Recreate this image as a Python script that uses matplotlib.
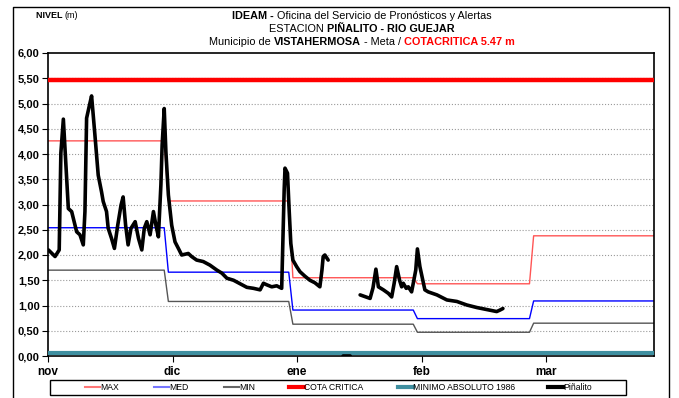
import numpy as np
import matplotlib
matplotlib.use("Agg")
import matplotlib.pyplot as plt
from matplotlib import font_manager
from matplotlib.lines import Line2D
from matplotlib.patches import Rectangle

# fuente angosta si existe
nombres = {f.name for f in font_manager.fontManager.ttflist}
FUENTE = 'Liberation Sans Narrow' if 'Liberation Sans Narrow' in nombres else 'Liberation Sans'
plt.rcParams['font.family'] = [FUENTE, 'DejaVu Sans']

# meses del eje x y niveles historicos mensuales (m)
meses = ['nov', 'dic', 'ene', 'feb', 'mar']
nivel_max = [4.26, 3.07, 1.55, 1.43, 2.38]
nivel_med = [2.54, 1.66, 0.91, 0.74, 1.09]
nivel_min = [1.70, 1.08, 0.63, 0.47, 0.65]
cota_critica = 5.47
minimo_1986 = 0.05

# nivel diario Piñalito (dia desde 1 nov, nivel m); NaN = sin dato
pin_dia = [0.1, 1.7, 2.7, 3.1, 3.7, 4.9, 5.7, 6.9, 7.7, 8.5, 8.9, 9.3, 10.0, 10.5,
           11.3, 12.1, 12.9, 13.3, 14.1, 14.5, 15.3, 16.0, 16.8, 17.6, 18.1, 18.7,
           19.3, 20.0, 21.0, 21.8, 22.6, 23.2, 23.8, 24.6, 25.4, 26.0, 26.6, 27.2,
           27.5, 28.0, 28.4, 29.0, 29.8, 30.6, 31.6, 32.2, 33.8, 34.6, 35.8, 37.4,
           39.0, 40.7, 41.9, 43.1, 44.7, 46.3, 47.9, 49.5, 51.1, 51.9, 52.7, 53.9,
           55.1, 56.3, 56.9, 57.1, 57.7, 58.1, 58.5, 59.0, 59.9, 60.7, 61.9, 63.1,
           64.3, 65.5, 66.0, 66.3, 66.7, 67.5,
           69.0,
           71.1, 72.8,
           74.0,
           75.2, 77.6, 78.3, 79.0, 79.6, 80.8, 82.0, 82.8, 83.4, 84.0, 84.7, 85.2,
           85.6, 86.3, 86.8, 87.6, 88.0, 88.6, 89.0, 89.6, 90.3, 90.8, 91.6, 93.7,
           96.1, 98.5, 100.9, 103.3, 105.7, 108.1, 108.9, 109.6]
pin_nivel = [2.10, 1.97, 2.10, 4.02, 4.69, 2.92, 2.86, 2.46, 2.40, 2.20, 2.86, 4.71,
             4.97, 5.15, 4.38, 3.58, 3.25, 3.06, 2.86, 2.53, 2.33, 2.13, 2.59, 2.99,
             3.15, 2.59, 2.20, 2.53, 2.66, 2.33, 2.10, 2.53, 2.66, 2.40, 2.86, 2.59,
             2.36, 3.39, 4.18, 4.90, 4.05, 3.19, 2.59, 2.26, 2.10, 2.00, 2.03, 1.97,
             1.90, 1.87, 1.80, 1.70, 1.64, 1.54, 1.50, 1.43, 1.36, 1.34, 1.31, 1.44,
             1.41, 1.37, 1.39, 1.34, 3.29, 3.72, 3.62, 2.89, 2.23, 1.90, 1.77, 1.67,
             1.58, 1.50, 1.45, 1.37, 1.70, 1.97, 2.00, 1.90,
             np.nan,
             0.0, 0.0,
             np.nan,
             1.21, 1.14, 1.35, 1.72, 1.37, 1.31, 1.24, 1.17, 1.44, 1.77, 1.50, 1.37,
             1.44, 1.34, 1.37, 1.27, 1.44, 1.70, 2.12, 1.77, 1.50, 1.31, 1.27, 1.21,
             1.11, 1.08, 1.01, 0.96, 0.92, 0.88, 0.91, 0.94]

inicio_mes = [0, 30, 60, 90, 120]   # posicion de cada mes en el eje
cambio = [29, 59, 89, 117]          # dia en que entra el valor del mes siguiente
x_fin = 146


def escalon(valores):
    xs, ys = [0], [valores[0]]
    for c, v_ant, v in zip(cambio, valores[:-1], valores[1:]):
        xs += [c - 1, c]
        ys += [v_ant, v]
    xs.append(x_fin)
    ys.append(valores[-1])
    return xs, ys


W, H = 679, 398
fig = plt.figure(figsize=(W/100, H/100), dpi=100)
ax = fig.add_axes([48/W, 1 - 356/H, (654-48)/W, (356-53)/H])

ax.axhline(cota_critica, color='#FF0000', lw=3.2, zorder=3)
ax.plot(*escalon(nivel_max), color='#FF5555', lw=1.0, zorder=2)
ax.plot(*escalon(nivel_med), color='#0000FF', lw=1.0, zorder=2)
ax.plot(*escalon(nivel_min), color='#555555', lw=1.0, zorder=2)
ax.axhline(minimo_1986, color='#3F8FA0', lw=3.0, zorder=3)
ax.plot(pin_dia, pin_nivel, color='black', lw=2.6, zorder=4,
        solid_joinstyle='round', solid_capstyle='round')

ax.set_xlim(0, x_fin)
ax.set_ylim(0, 6)
ax.set_yticks(np.arange(0, 6.01, 0.5))
ax.set_yticklabels([('%.2f' % v).replace('.', ',') for v in np.arange(0, 6.01, 0.5)],
                   fontsize=8, fontweight='bold')
ax.set_xticks(inicio_mes)
ax.set_xticklabels(meses, fontsize=8.5, fontweight='bold')
ax.tick_params(axis='both', direction='out', length=4, width=0.8, color='black')
ax.tick_params(axis='x', pad=3)
ax.tick_params(axis='y', pad=2)
for y in np.arange(0.5, 6.0, 0.5):
    ax.axhline(y, color='#9A9A9A', lw=0.8, ls=':', zorder=1)
for s in ax.spines.values():
    s.set_linewidth(1.2)
    s.set_color('black')

# marco exterior
fig.add_artist(Line2D([13/W, 13/W, 669/W, 669/W], [0, 1 - 7/H, 1 - 7/H, 0],
                      transform=fig.transFigure, color='black', lw=1.0))


def linea_titulo(y, partes, xc=362/W, size=7.8):
    # partes: (texto, negrita, color); se centra el conjunto en xc
    r = fig.canvas.get_renderer()
    textos = []
    for txt, bold, col in partes:
        t = fig.text(0, y, txt, fontsize=size, color=col, va='center',
                     fontweight='bold' if bold else 'normal')
        textos.append(t)
    anchos = [t.get_window_extent(r).width / fig.bbox.width for t in textos]
    x = xc - sum(anchos) / 2
    for t, w in zip(textos, anchos):
        t.set_x(x)
        x += w


linea_titulo(1 - 16/H, [('IDEAM - ', True, 'black'),
                        ('Oficina del Servicio de Pronósticos y Alertas', False, 'black')])
linea_titulo(1 - 29/H, [('ESTACION ', False, 'black'),
                        ('PIÑALITO - RIO GUEJAR', True, 'black')])
linea_titulo(1 - 42/H, [('Municipio de ', False, 'black'),
                        ('VISTAHERMOSA', True, 'black'),
                        (' - Meta / ', False, 'black'),
                        ('COTACRITICA 5.47 m', True, '#FF0000')])
linea_titulo(1 - 16/H, [('NIVEL ', True, 'black'), ('(m)', False, 'black')],
             xc=57/W, size=6.5)

# leyenda dibujada a mano dentro de un recuadro
etiquetas = ['MAX', 'MED', 'MIN', 'COTA CRITICA', 'MINIMO ABSOLUTO 1986', 'Piñalito']
colores_ley = ['#FF7777', '#7777FF', '#666666', '#FF0000', '#3F8FA0', 'black']
grosor_ley = [1.5, 1.5, 1.5, 3, 3, 3]
x_ley = [85, 154, 224, 289, 398, 548]
y_ley = 1 - 387/H
fig.add_artist(Rectangle((50/W, 1 - 395/H), (626-50)/W, 15/H, transform=fig.transFigure,
                         facecolor='white', edgecolor='black', lw=1.0))
for etq, col, lw, x in zip(etiquetas, colores_ley, grosor_ley, x_ley):
    fig.add_artist(Line2D([x/W, (x+15)/W], [y_ley, y_ley], transform=fig.transFigure,
                          color=col, lw=lw))
    fig.text((x+15)/W, y_ley, etq, fontsize=6.2, va='center', ha='left')

fig.savefig('out.png', dpi=100, facecolor='white')
